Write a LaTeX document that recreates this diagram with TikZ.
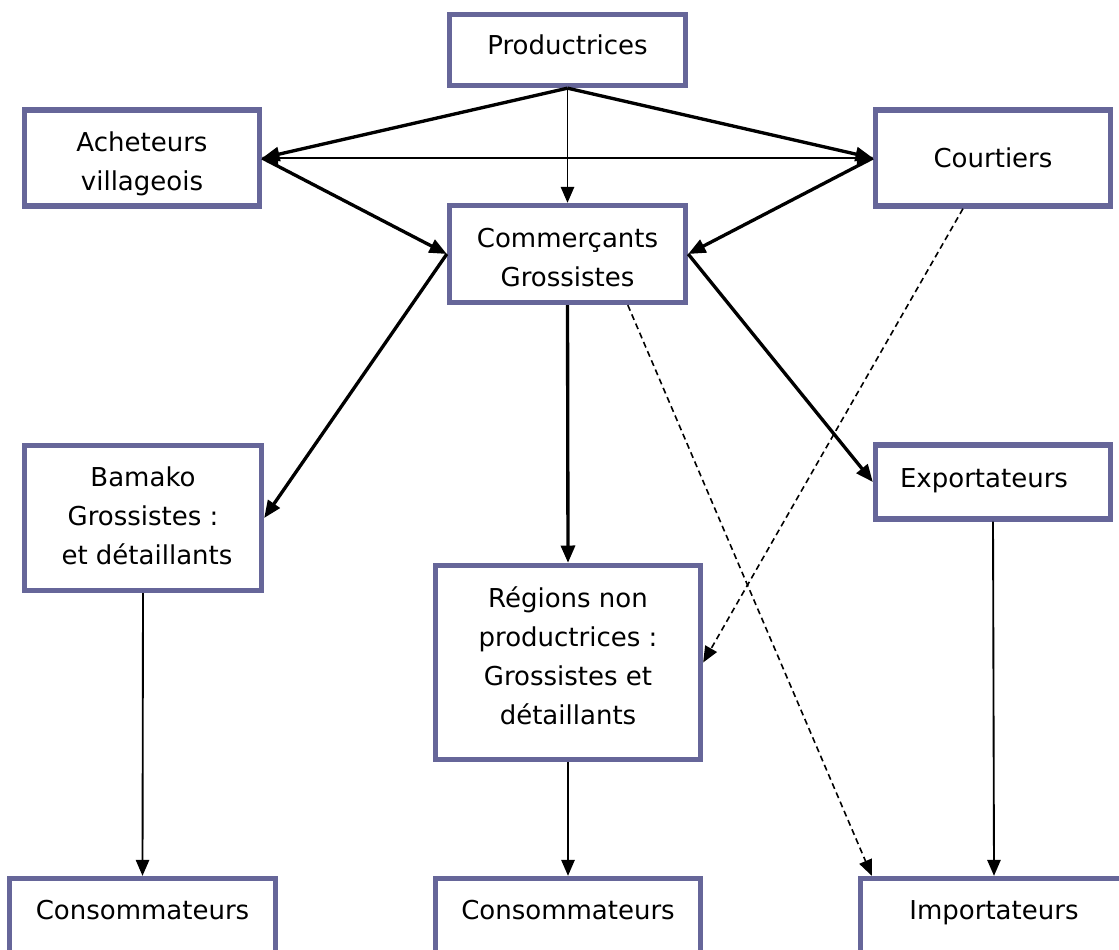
\documentclass[tikz,border=0pt]{standalone}
\usepackage{fontspec}
\setmainfont{DejaVu Sans}
\usetikzlibrary{arrows.meta,calc}
\definecolor{boxc}{RGB}{102,102,153}
\begin{document}
\begin{tikzpicture}[x=0.75pt,y=-0.75pt,
  box/.style={draw=boxc, line width=4pt, fill=white, inner sep=0pt, align=center,
    font=\fontsize{19.5}{29.25}\selectfont},
  bottombox/.style={box, minimum height={80*0.75pt}, text height=15pt, text depth=13.6pt},
  thickarr/.style={line width=2.5pt, -{Triangle[length=13pt,width=10.5pt]}},
  thinarr/.style={line width=1.4pt, -{Triangle[length=12pt,width=10pt]}},
  dasharr/.style={line width=1.2pt, dash pattern=on 4.5pt off 3pt, -{Triangle[length=12pt,width=10pt]}}]
\useasboundingbox (0,0) rectangle (1119,949);
\clip (0,0) rectangle (1119,949);
\fill[white] (0,0) rectangle (1119,949);

\node[box, minimum width={236*0.75pt}, minimum height={71*0.75pt}, text depth=8pt] (prod) at (567.5,50) {Productrices};
\node[box, minimum width={235*0.75pt}, minimum height={96*0.75pt}, text height=48.5pt, text depth=0pt] (ach) at (142,158) {Acheteurs\\villageois};
\node[box, minimum width={235*0.75pt}, minimum height={96*0.75pt}] (court) at (993,158) {Courtiers};
\node[box, minimum width={236*0.75pt}, minimum height={97*0.75pt}, text height=49pt, text depth=0pt] (comm) at (567.5,254) {Commerçants\\Grossistes};
\node[box, minimum width={237*0.75pt}, minimum height={145*0.75pt}, text depth=3pt] (bam) at (143,518) {Bamako\\Grossistes :\\\hspace*{6pt}et détaillants};
\node[box, minimum width={235*0.75pt}, minimum height={74*0.75pt}, text depth=6pt] (exp) at (993,482) {Exportateurs\hspace*{13.5pt}};
\node[box, minimum width={265*0.75pt}, minimum height={194*0.75pt}, text depth=11pt] (reg) at (568,662.5) {Régions non\\productrices :\\Grossistes et\\détaillants};
\node[bottombox, minimum width={266*0.75pt}] (cons1) at (142.5,918.5) {Consommateurs};
\node[bottombox, minimum width={265*0.75pt}] (cons2) at (568,918.5) {Consommateurs};
\node[bottombox, minimum width={267*0.75pt}] (imp) at (994,918.5) {Importateurs};

\coordinate (commdash) at ($(comm.south west)!0.75!(comm.south east)$);
\coordinate (courtdash) at ($(court.south west)!0.375!(court.south east)$);
\coordinate (impdash) at ($(imp.north west)+(14,0)$);

\draw[thickarr] (prod.south) -- (ach.east);
\draw[thickarr] (prod.south) -- (court.west);
\draw[thinarr] (prod.south) -- (comm.north);
\draw[thinarr, {Triangle[length=12pt,width=10pt]}-{Triangle[length=12pt,width=10pt]}] (ach.east) -- (court.west);
\draw[thickarr] (ach.east) -- (comm.west);
\draw[thickarr] (court.west) -- (comm.east);
\draw[thickarr] (comm.west) -- (bam.east);
\draw[thickarr] (comm.east) -- (exp.west);
\draw[thickarr] (comm.south) -- (reg.north);
\draw[dasharr] (commdash) -- (impdash);
\draw[dasharr] (courtdash) -- (reg.east);
\draw[thinarr] (bam.south) -- (cons1.north);
\draw[thinarr] (reg.south) -- (cons2.north);
\draw[thinarr] (exp.south) -- (imp.north);
\end{tikzpicture}
\end{document}
